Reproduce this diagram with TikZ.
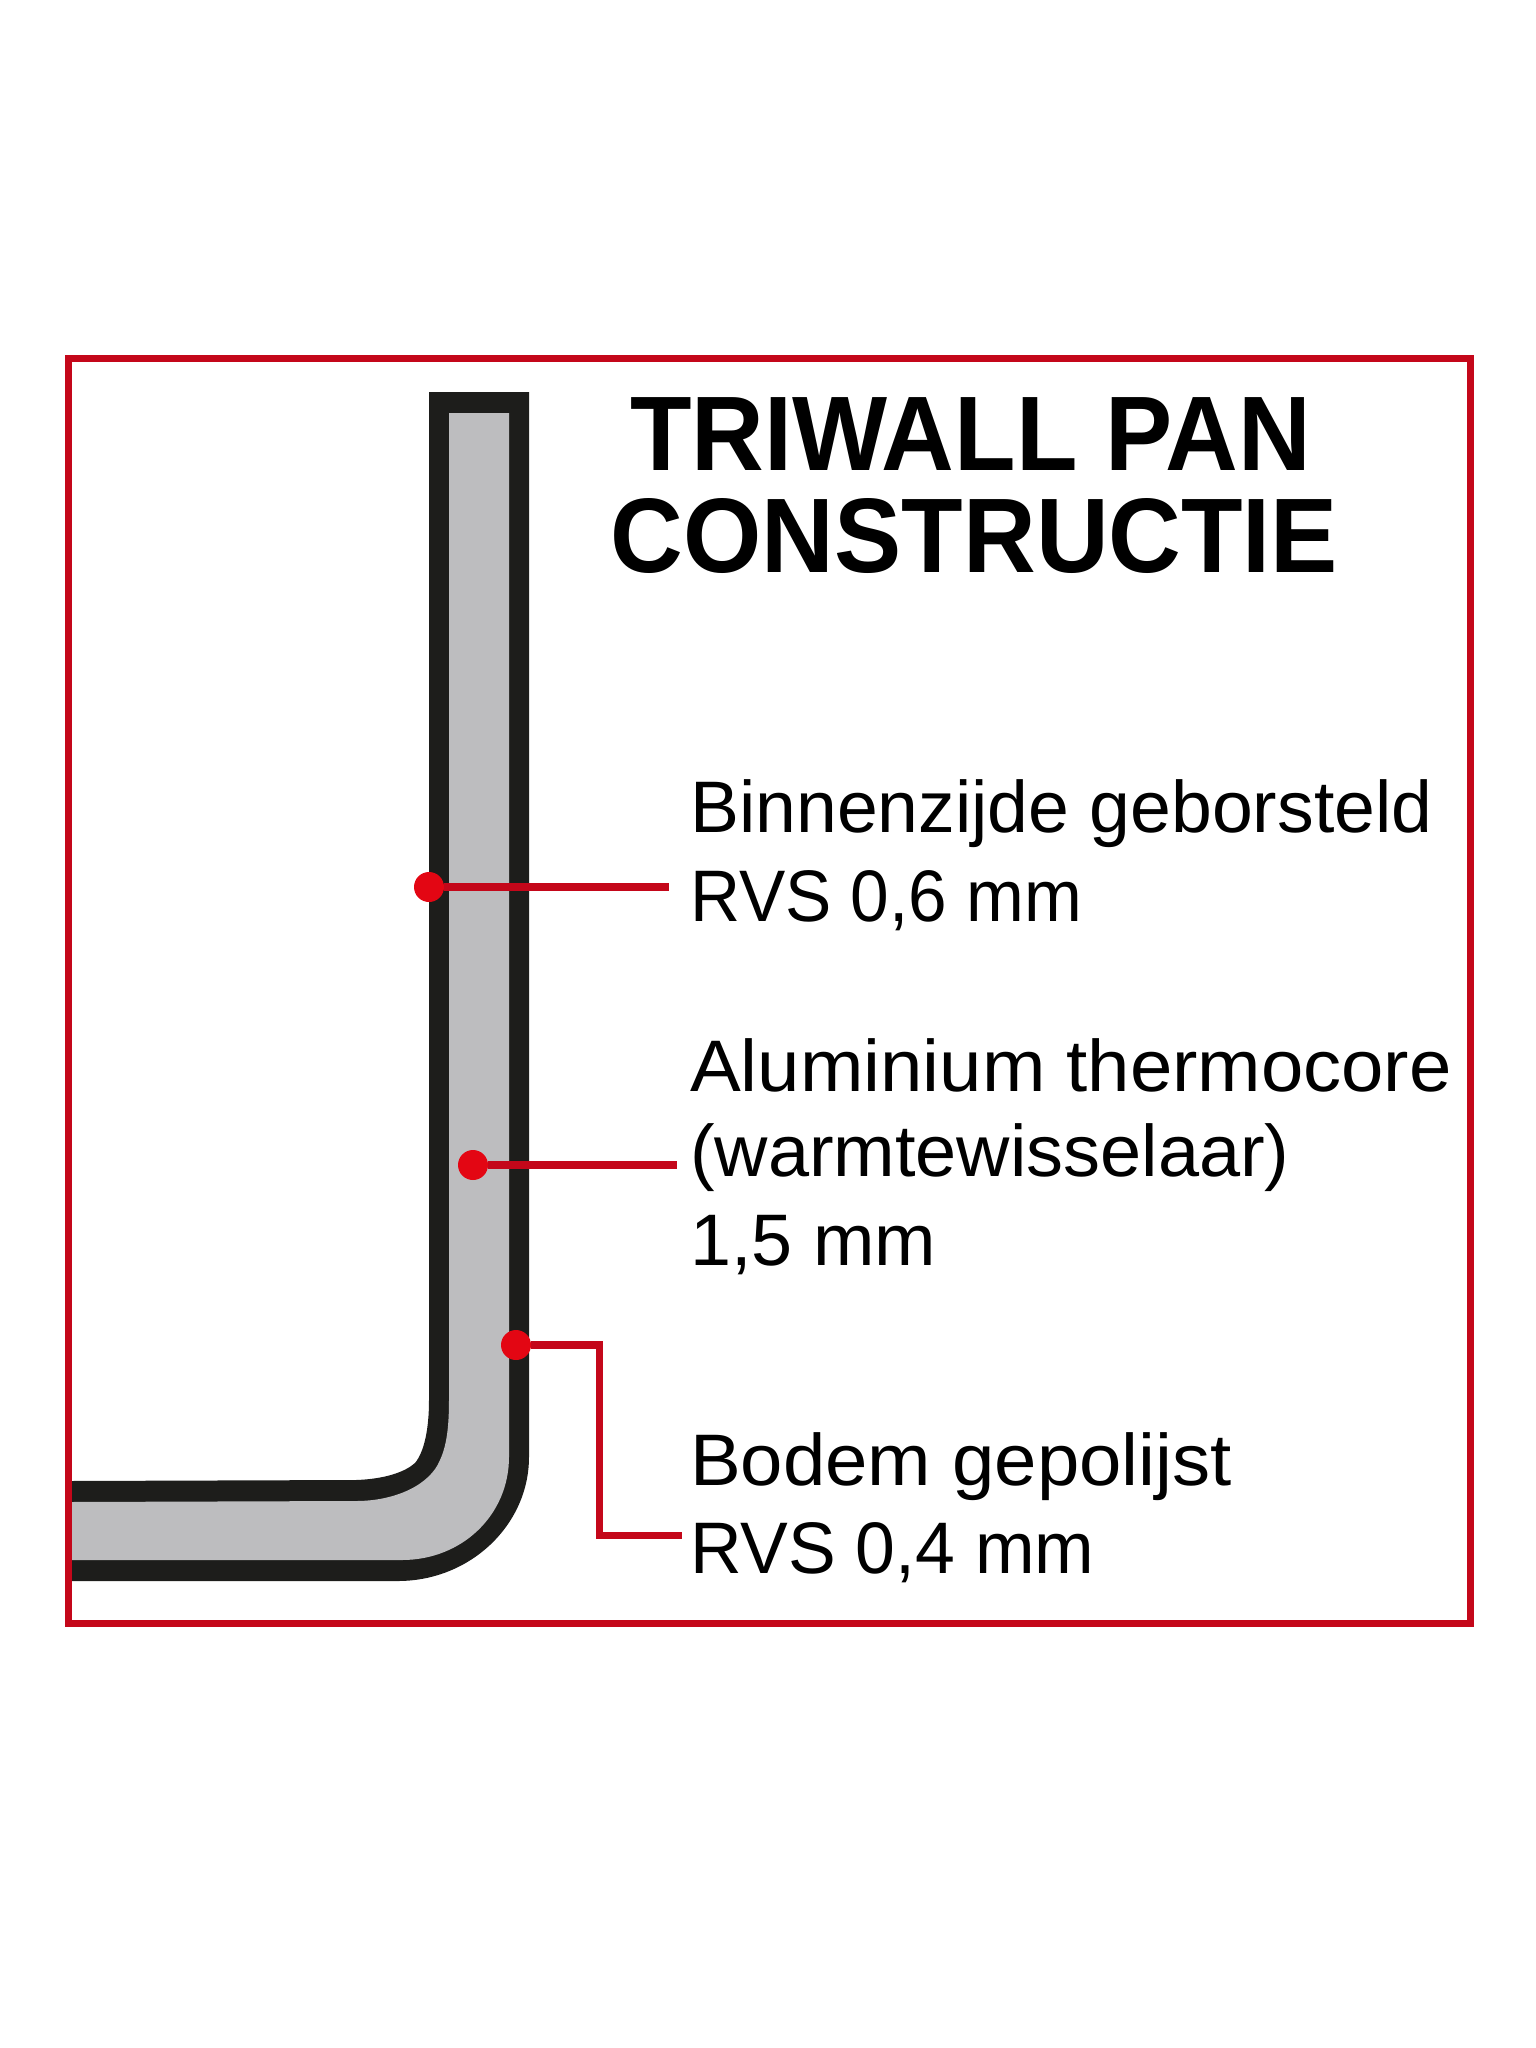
\documentclass[tikz,border=0pt]{standalone}
\usepackage{fontspec}
\setmainfont{Liberation Sans}
\usetikzlibrary{calc}
\definecolor{framered}{HTML}{C4071A}
\definecolor{dotred}{HTML}{E30613}
\definecolor{wallblack}{HTML}{1D1D1B}
\definecolor{coregrey}{HTML}{BDBDBF}
\newcommand\stretched[2]{{\addfontfeature{FakeStretch=#1}#2}}
\tikzset{
	dot/.style={circle,fill=dotred,inner sep=0pt,minimum width=29pt,minimum height=30pt},
	leader/.style={draw=framered,line width=7.5pt,line join=miter},
	lbl/.style={anchor=base west,inner sep=0pt,font=\fontsize{73}{90}\selectfont},
	head/.style={anchor=base,inner sep=0pt,font=\fontsize{106}{102}\selectfont\bfseries\addfontfeature{FakeStretch=0.95}},
}
\begin{document}
\begin{tikzpicture}[x=1pt,y=-1pt]
			\useasboundingbox (0,0) rectangle (1536,2048);
			% pan wall
			\fill[wallblack] (68,1581) -- (398,1581) .. controls (470,1581) and (529,1525) .. (529,1457) -- (529,392) -- (429,392) -- (429,1400) .. controls (429,1430) and (424,1452) .. (415,1463) .. controls (405,1472) and (385,1479) .. (356,1480) -- (68,1481) -- cycle;
			\fill[coregrey] (68,1560) -- (402,1560) .. controls (462,1560) and (509,1515) .. (509,1457) -- (509,413) -- (449,413) -- (449,1400) .. controls (449,1425) and (447,1445) .. (440,1460) .. controls (430,1485) and (395,1501) .. (356,1501) -- (68,1502) -- cycle;
			% frame
			\draw[framered,line width=7pt] (68,358.5) rectangle (1470.5,1623);
			% title
			\node[head] (title1) at (970.5,470) {TRIWALL PAN};
			\node[head] (title2) at (974.5,572) {CONSTRUCTIE};
			% labels
			\node[lbl] (inner1) at (690,832) {\stretched{1.005}{Binnenzijde geborsteld}};
			\node[lbl] (inner2) at (690,921) {\stretched{0.95}{RVS 0,6 mm}};
			\node[lbl] (core1) at (690,1091) {\stretched{1.043}{Aluminium thermocore}};
			\node[lbl] (core2) at (690,1176) {\stretched{1.012}{(warmtewisselaar)}};
			\node[lbl] (core3) at (690,1265) {\stretched{1.01}{1,5 mm}};
			\node[lbl] (base1) at (690,1485) {\stretched{1.043}{Bodem gepolijst}};
			\node[lbl] (base2) at (690,1573) {\stretched{0.98}{RVS 0,4 mm}};
			% dots and leaders
			\node[dot] (dotinner) at (429,887) {};
			\node[dot] (dotcore) at (473,1165) {};
			\node[dot] (dotbase) at (516,1345) {};
			\coordinate (endinner) at (669,887);
			\coordinate (endcore) at (677,1165);
			\coordinate (kneetop) at (599.5,1345);
			\coordinate (kneelow) at (599.5,1535.5);
			\coordinate (endbase) at (682,1535.5);
			\draw[leader] (dotinner) -- (endinner);
			\draw[leader] (dotcore) -- (endcore);
			\draw[leader] (dotbase) -- (kneetop) -- (kneelow) -- (endbase);
		\end{tikzpicture}
\end{document}
